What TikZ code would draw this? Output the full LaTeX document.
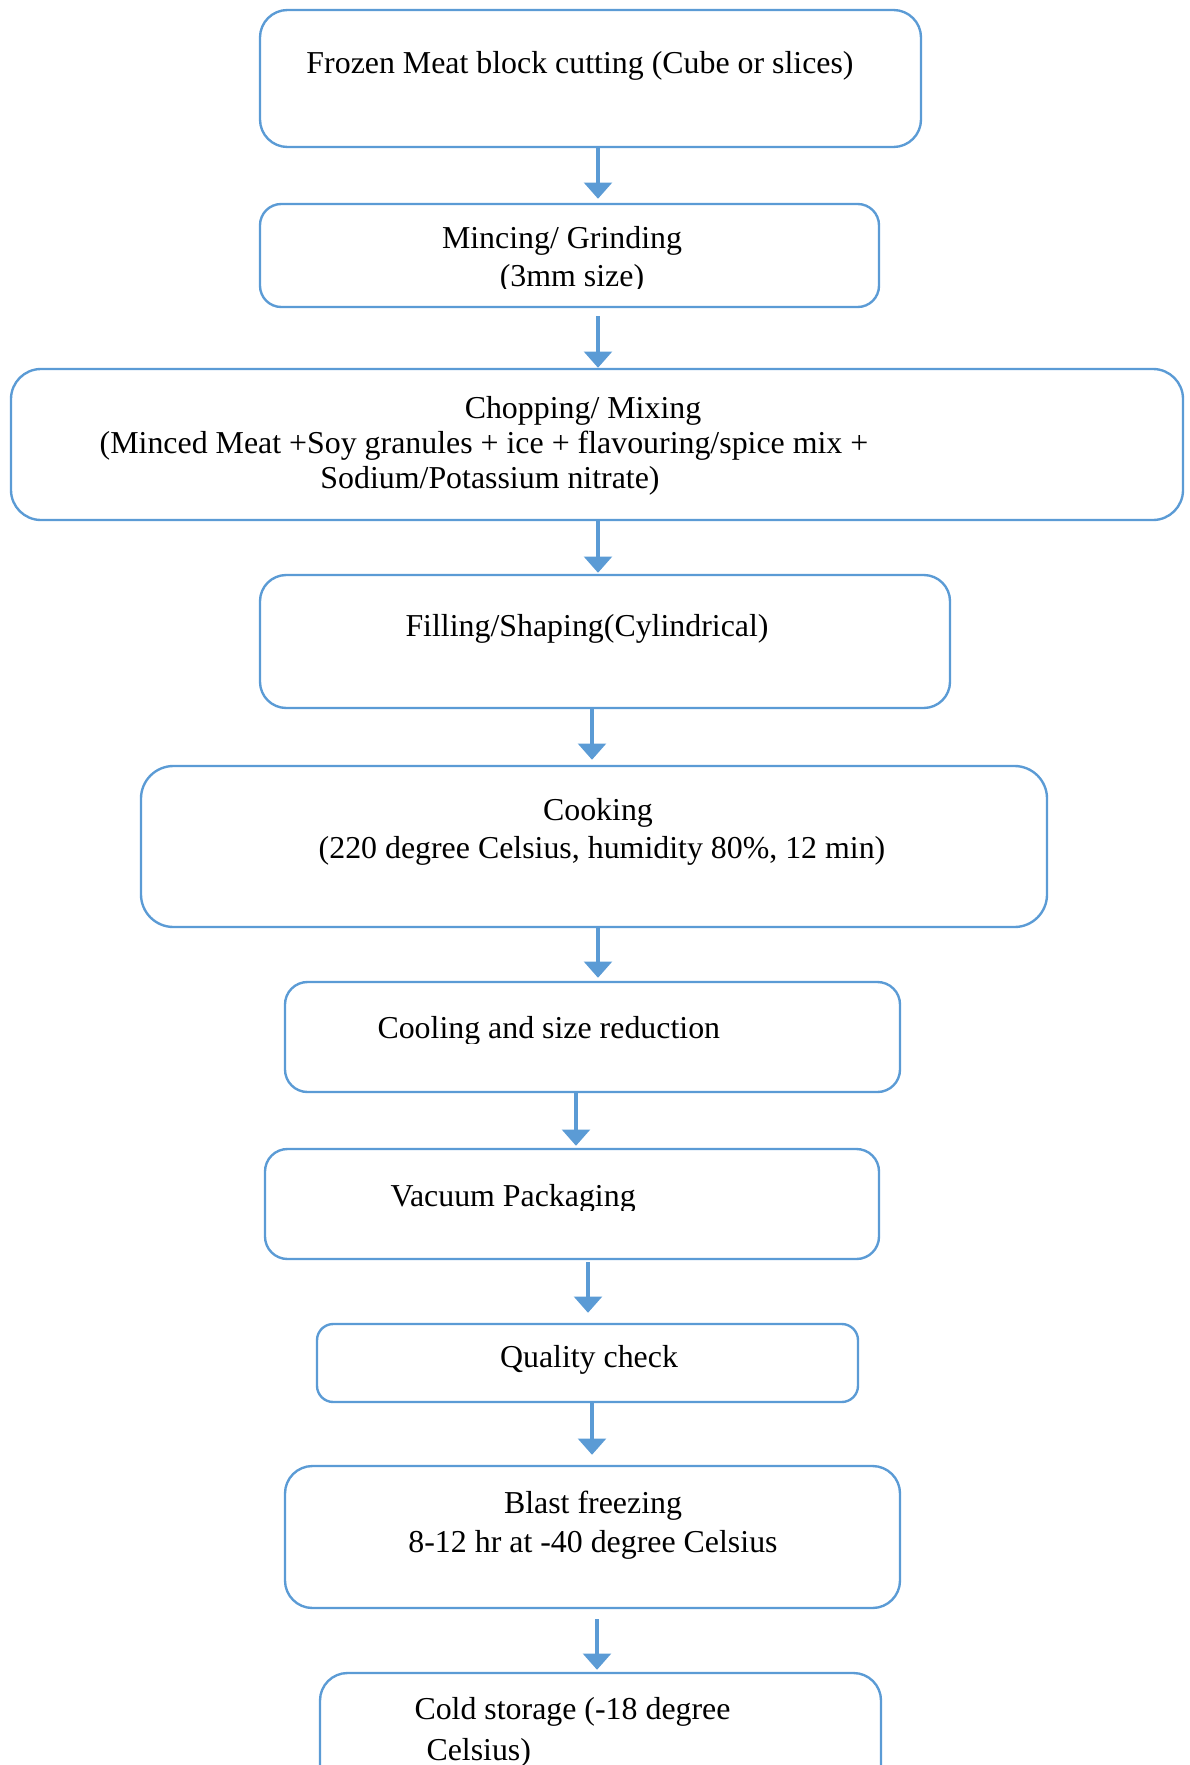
\documentclass[tikz,border=0pt]{standalone}
\usepackage{fontspec}
\setmainfont{Liberation Serif}
\usetikzlibrary{arrows.meta,fit}
\definecolor{flowblue}{HTML}{5B9BD5}
\begin{document}
\begin{tikzpicture}[x=0.4pt,y=-0.4pt,
  box/.style={draw=flowblue,line width=0.95pt,inner sep=0pt,rectangle},
  lbl/.style={anchor=base,inner sep=0pt,font=\fontsize{12.75}{14.2}\selectfont},
  lbll/.style={lbl,anchor=base west},
  arr/.style={draw=flowblue,line width=1.7pt,-{Triangle[width=11pt,length=6.5pt]}}]
\useasboundingbox (0,0) rectangle (1190,1765);
\clip (0,0) rectangle (1190,1765);
% boxes
\node[box,rounded corners=11pt,fit={(260,10)(921,147)}] (b1) {};
\node[box,rounded corners=8.5pt,fit={(260,204)(879,307)}] (b2) {};
\node[box,rounded corners=12pt,fit={(11,369)(1183,520)}] (b3) {};
\node[box,rounded corners=10.5pt,fit={(260,575)(950,708)}] (b4) {};
\node[box,rounded corners=13pt,fit={(141,766)(1047,927)}] (b5) {};
\node[box,rounded corners=9pt,fit={(285,982)(900,1092)}] (b6) {};
\node[box,rounded corners=9pt,fit={(265,1149)(879,1259)}] (b7) {};
\node[box,rounded corners=6.5pt,fit={(317,1324)(858,1402)}] (b8) {};
\node[box,rounded corners=11pt,fit={(285,1466)(900,1608)}] (b9) {};
\node[box,rounded corners=11pt,fit={(320,1673)(881,1830)}] (b10) {};
% texts
\node[lbl] (t1) at (580,74) {Frozen Meat block cutting (Cube or slices)};
\node[lbl] (t2a) at (562,249) {Mincing/ Grinding};
\begin{scope}
\clip (262,206) rectangle (877,289);
\node[lbl] (t2b) at (572,286.5) {(3mm size)};
\end{scope}
\node[lbl] (t3a) at (583,418) {Chopping/ Mixing};
\node[lbl] (t3b) at (484,453) {(Minced Meat +Soy granules + ice + flavouring/spice mix +};
\node[lbl] (t3c) at (490,488) {Sodium/Potassium nitrate)};
\node[lbl] (t4) at (587,636) {Filling/Shaping(Cylindrical)};
\node[lbl] (t5a) at (598,820) {Cooking};
\node[lbl] (t5b) at (602,858) {(220 degree Celsius, humidity 80\%, 12 min)};
\begin{scope}
\clip (287,984) rectangle (898,1043);
\node[lbll] (t6) at (377,1038) {Cooling and size reduction};
\end{scope}
\begin{scope}
\clip (267,1151) rectangle (877,1210);
\node[lbll] (t7) at (390,1206) {Vacuum Packaging};
\end{scope}
\node[lbl] (t8) at (589,1367) {Quality check};
\node[lbl] (t9a) at (593,1513) {Blast freezing};
\node[lbl] (t9b) at (593,1552) {8-12 hr at -40 degree Celsius};
\node[lbll] (t10a) at (414,1719) {Cold storage (-18 degree};
\node[lbll] (t10b) at (426,1760) {Celsius)};
% arrows
\coordinate (ax1) at (598,0);
\coordinate (ax4) at (592,0);
\coordinate (ax6) at (576,0);
\coordinate (ax7) at (588,0);
\coordinate (ax9) at (597,0);
\draw[arr,shorten >=1.6pt] (b1.south -| ax1) -- (b2.north -| ax1);
\draw[arr,shorten <=3.2pt] (b2.south -| ax1) -- (b3.north -| ax1);
\draw[arr,shorten >=0.4pt] (b3.south -| ax1) -- (b4.north -| ax1);
\draw[arr,shorten >=2pt] (b4.south -| ax4) -- (b5.north -| ax4);
\draw[arr,shorten >=1.2pt] (b5.south -| ax1) -- (b6.north -| ax1);
\draw[arr,shorten >=0.8pt] (b6.south -| ax6) -- (b7.north -| ax6);
\draw[arr,shorten <=0.8pt,shorten >=4pt] (b7.south -| ax7) -- (b8.north -| ax7);
\draw[arr,shorten >=4pt] (b8.south -| ax4) -- (b9.north -| ax4);
\draw[arr,shorten <=4pt,shorten >=0.8pt] (b9.south -| ax9) -- (b10.north -| ax9);
\end{tikzpicture}
\end{document}
